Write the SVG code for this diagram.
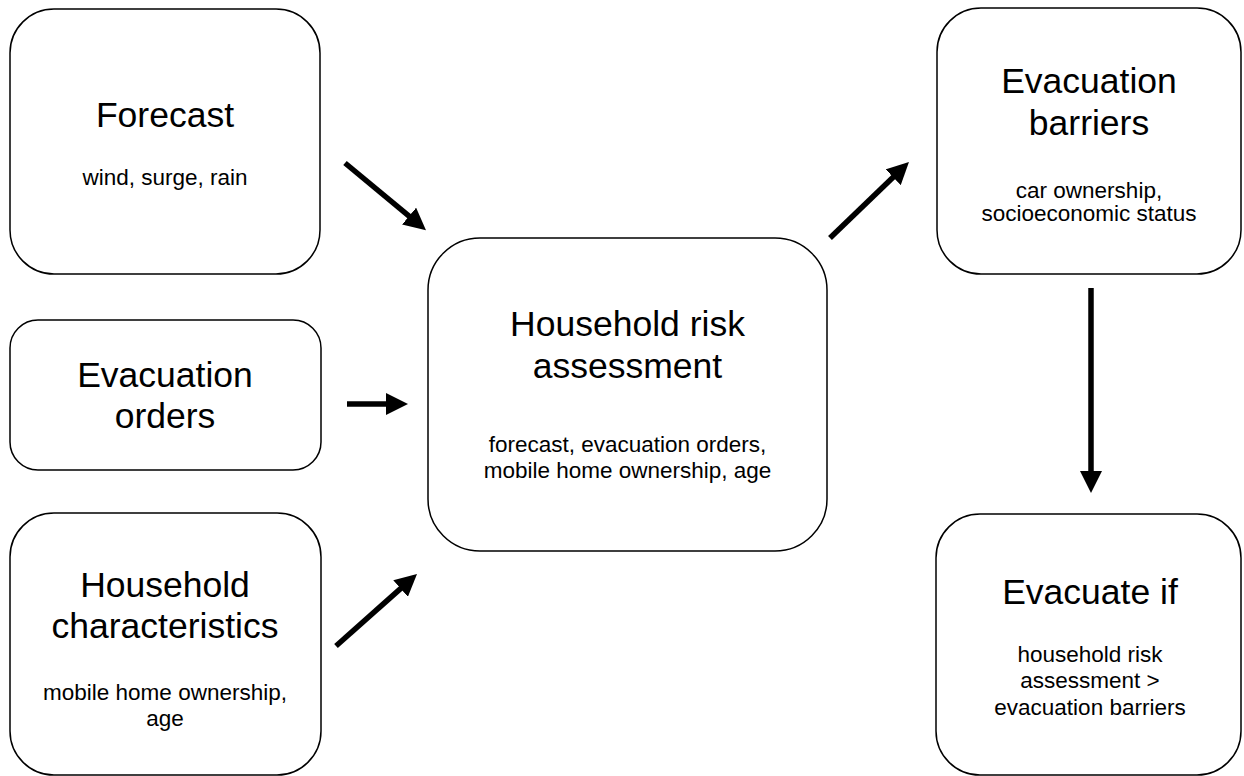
<svg xmlns="http://www.w3.org/2000/svg" width="1244" height="776" viewBox="0 0 1244 776">
<style>
.box{fill:#fff;stroke:#000;stroke-width:1.5}
.t{font-family:"Liberation Sans",Arial,sans-serif;fill:#000;text-anchor:middle}
.big{font-size:35.5px}
.sm{font-size:22.5px}
.conn{stroke:#000;stroke-width:5.5;fill:none}
</style>
<defs>
<marker id="ah" markerUnits="userSpaceOnUse" markerWidth="22" markerHeight="22" refX="9" refY="11" orient="auto" viewBox="0 0 22 22">
<path d="M0,0 L22,11 L0,22 z" fill="#000"/>
</marker>
</defs>
<rect width="1244" height="776" fill="#fff"/>
<g id="forecast">
<rect class="box" x="10" y="9" width="310" height="265" rx="44" ry="44"/>
<text class="t big" x="165" y="127">Forecast</text>
<text class="t sm" x="165" y="185">wind, surge, rain</text>
</g>
<g id="evacuation-orders">
<rect class="box" x="10" y="320" width="311" height="150" rx="28" ry="28"/>
<text class="t big" x="165" y="387">Evacuation</text>
<text class="t big" x="165" y="428">orders</text>
</g>
<g id="household-characteristics">
<rect class="box" x="10" y="513" width="311" height="262" rx="44" ry="44"/>
<text class="t big" x="165" y="597">Household</text>
<text class="t big" x="165" y="638">characteristics</text>
<text class="t sm" x="165" y="700">mobile home ownership,</text>
<text class="t sm" x="165" y="726">age</text>
</g>
<g id="household-risk-assessment">
<rect class="box" x="428" y="238" width="399" height="313" rx="52" ry="52"/>
<text class="t big" x="627.5" y="336">Household risk</text>
<text class="t big" x="627.5" y="378">assessment</text>
<text class="t sm" x="627.5" y="452">forecast, evacuation orders,</text>
<text class="t sm" x="627.5" y="478">mobile home ownership, age</text>
</g>
<g id="evacuation-barriers">
<rect class="box" x="937" y="8" width="304" height="266" rx="44" ry="44"/>
<text class="t big" x="1089" y="93">Evacuation</text>
<text class="t big" x="1089" y="135">barriers</text>
<text class="t sm" x="1089" y="198">car ownership,</text>
<text class="t sm" x="1089" y="221">socioeconomic status</text>
</g>
<g id="evacuate-if">
<rect class="box" x="936" y="514" width="305" height="261" rx="44" ry="44"/>
<text class="t big" x="1090" y="604">Evacuate if</text>
<text class="t sm" x="1090" y="662">household risk</text>
<text class="t sm" x="1090" y="688">assessment &gt;</text>
<text class="t sm" x="1090" y="715">evacuation barriers</text>
</g>
<g id="connectors">
<line class="conn" x1="345" y1="163" x2="416" y2="221.9" marker-end="url(#ah)"/>
<line class="conn" x1="347" y1="404" x2="395" y2="404" marker-end="url(#ah)"/>
<line class="conn" x1="336" y1="646" x2="407.3" y2="582.6" marker-end="url(#ah)"/>
<line class="conn" x1="830" y1="238" x2="899.6" y2="171" marker-end="url(#ah)"/>
<line class="conn" x1="1091" y1="288" x2="1091" y2="480" marker-end="url(#ah)"/>
</g>
</svg>
